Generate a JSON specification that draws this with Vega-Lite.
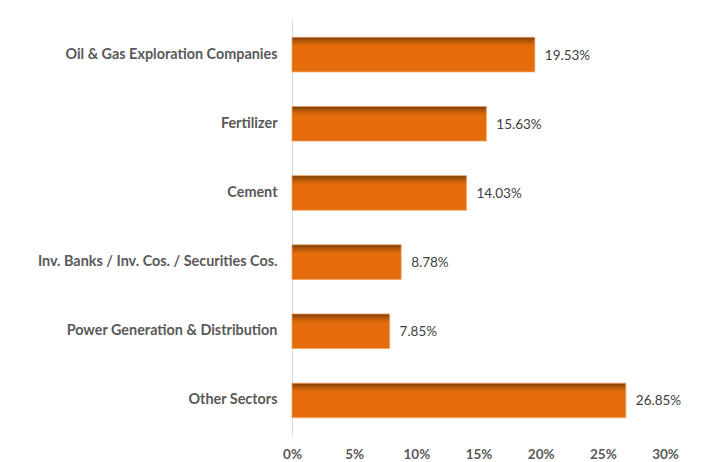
{
  "$schema": "https://vega.github.io/schema/vega-lite/v6.json",
  "autosize": "none",
  "width": 373,
  "height": 415,
  "padding": {"left": 292, "top": 20, "right": 39, "bottom": 27},
  "background": "white",
  "view": {"stroke": null},
  "data": {
    "values": [
      {"sector": "Oil & Gas Exploration Companies", "pct": 19.53, "label": "19.53%"},
      {"sector": "Fertilizer", "pct": 15.63, "label": "15.63%"},
      {"sector": "Cement", "pct": 14.03, "label": "14.03%"},
      {"sector": "Inv. Banks / Inv. Cos. / Securities Cos.", "pct": 8.78, "label": "8.78%"},
      {"sector": "Power Generation & Distribution", "pct": 7.85, "label": "7.85%"},
      {"sector": "Other Sectors", "pct": 26.85, "label": "26.85%"}
    ]
  },
  "encoding": {
    "y": {
      "field": "sector", "type": "nominal", "sort": null, "title": null,
      "scale": {"paddingInner": 0.5, "paddingOuter": 0.25},
      "axis": {
        "domain": true, "domainColor": "#d9d9d9", "domainWidth": 1,
        "ticks": false, "labelPadding": 15,
        "labelFont": "Lato", "labelFontWeight": "bold", "labelFontSize": 14.4,
        "labelColor": "#595959", "labelLimit": 300
      }
    },
    "x": {
      "field": "pct", "type": "quantitative", "title": null,
      "scale": {"domain": [0, 30], "nice": false},
      "axis": {
        "values": [0, 5, 10, 15, 20, 25, 30],
        "labelExpr": "datum.value + '%'",
        "labelFlush": false,
        "domain": false, "ticks": false, "grid": false,
        "labelPadding": 12,
        "labelFont": "Lato", "labelFontWeight": "bold", "labelFontSize": 13.5,
        "labelColor": "#595959"
      }
    }
  },
  "layer": [
    {
      "mark": {
        "type": "bar",
        "color": {
          "gradient": "linear", "x1": 0, "y1": 0, "x2": 0, "y2": 1,
          "stops": [
            {"offset": 0, "color": "#7a3d08"},
            {"offset": 0.12, "color": "#b85a0a"},
            {"offset": 0.25, "color": "#e46c0a"},
            {"offset": 1, "color": "#e46c0a"}
          ]
        },
        "stroke": "#f0a060", "strokeWidth": 0.8
      }
    },
    {
      "mark": {
        "type": "text", "align": "left", "dx": 10, "dy": 1,
        "font": "Lato", "fontSize": 13.5, "color": "#404040"
      },
      "encoding": {
        "text": {"field": "label", "type": "nominal"}
      }
    }
  ]
}
